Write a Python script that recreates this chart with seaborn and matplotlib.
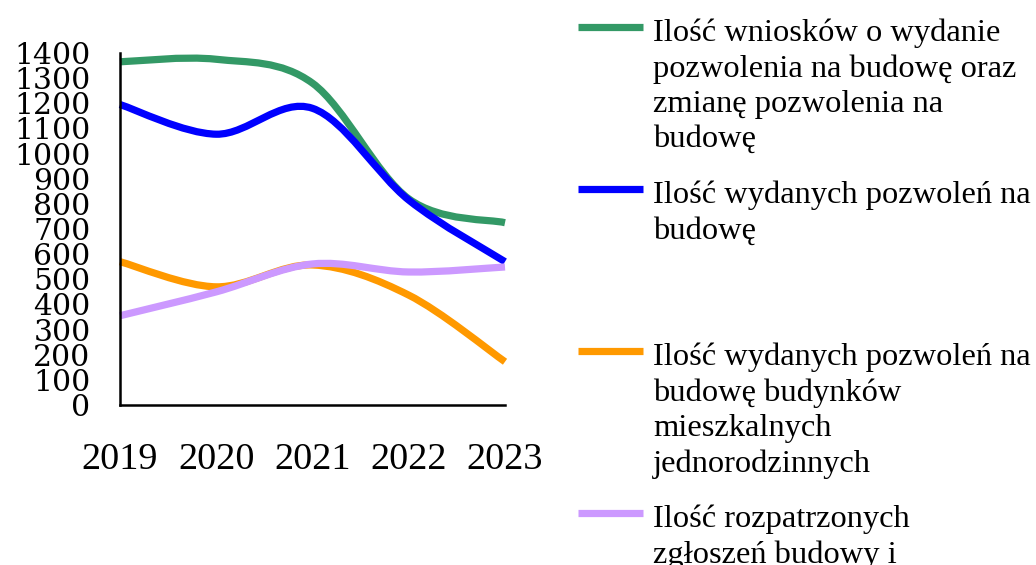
import numpy as np
import pandas as pd
import matplotlib.pyplot as plt
import seaborn as sns
from matplotlib.path import Path
from matplotlib.patches import PathPatch
from matplotlib.lines import Line2D

# dane
years = ["2019", "2020", "2021", "2022", "2023"]
wnioski = [1365, 1375, 1280, 820, 725]
pozwolenia = [1195, 1077, 1180, 815, 570]
jednorodzinne = [570, 470, 557, 437, 172]
zgloszenia = [355, 450, 561, 529, 549]

series = [
    "Ilość wniosków o wydanie\npozwolenia na budowę oraz\nzmianę pozwolenia na\nbudowę",
    "Ilość wydanych pozwoleń na\nbudowę",
    "Ilość wydanych pozwoleń na\nbudowę budynków\nmieszkalnych\njednorodzinnych",
    "Ilość rozpatrzonych\nzgłoszeń budowy i",
]
colors = ["#339966", "#0000FF", "#FF9900", "#CC99FF"]

df = pd.DataFrame({
    "Rok": years * 4,
    "Wartość": wnioski + pozwolenia + jednorodzinne + zgloszenia,
    "Seria": [s for s in series for _ in years],
})

sns.set_style("white")
plt.rcParams["font.family"] = ["DejaVu Serif"]
plt.rcParams["text.color"] = "black"
plt.rcParams["xtick.color"] = "black"
plt.rcParams["ytick.color"] = "black"

W, H = 1036, 565
fig = plt.figure(figsize=(W / 100, H / 100), dpi=100)
ax = fig.add_axes([120 / W, 160 / H, 385 / W, 352 / H])

sns.lineplot(data=df, x="Rok", y="Wartość", hue="Seria", palette=colors,
             legend=False, ax=ax)


def smooth(xy):
    # wygładzenie jak w Excelu (krzywe Beziera przez punkty)
    n = len(xy)
    verts = [xy[0]]
    codes = [Path.MOVETO]
    for i in range(n - 1):
        p0 = xy[max(i - 1, 0)]
        p1 = xy[i]
        p2 = xy[i + 1]
        p3 = xy[min(i + 2, n - 1)]
        verts += [p1 + (p2 - p0) / 6, p2 - (p3 - p1) / 6, p2]
        codes += [Path.CURVE4] * 3
    return Path(verts, codes)


for line, c in zip(list(ax.lines), colors):
    xy = np.asarray(line.get_xydata(), dtype=float)
    ax.add_patch(PathPatch(smooth(xy), facecolor="none", edgecolor=c, lw=5.2,
                           capstyle="butt", joinstyle="round", clip_on=False))
    line.set_visible(False)

ax.set_xlim(0, 4)
ax.set_ylim(0, 1400)
ax.set_yticks(range(0, 1401, 100))
ax.set_xlabel("")
ax.set_ylabel("")
sns.despine(ax=ax)
for sp in ["left", "bottom"]:
    ax.spines[sp].set_linewidth(1.8)
    ax.spines[sp].set_color("black")
ax.tick_params(axis="both", direction="out", length=7.2, width=1.5, color="black")
ax.tick_params(axis="y", pad=14, labelsize=21.5)
ax.tick_params(axis="x", pad=20)
for lab in ax.get_xticklabels():
    lab.set_fontfamily("Liberation Serif")
    lab.set_fontsize(27.5)

# legenda po prawej, równe odstępy jak w Excelu
for i, (s, c) in enumerate(zip(series, colors)):
    ytop = 27 + i * 162
    fig.add_artist(Line2D([578 / W, 643 / W], [1 - ytop / H, 1 - ytop / H],
                          color=c, lw=5.2, solid_capstyle="butt"))
    fig.text(653 / W, 1 - (ytop - 8) / H, s, fontsize=23.4,
             family="Liberation Serif", va="top", ha="left",
             linespacing=1.27)

fig.savefig("out.png", dpi=100)
